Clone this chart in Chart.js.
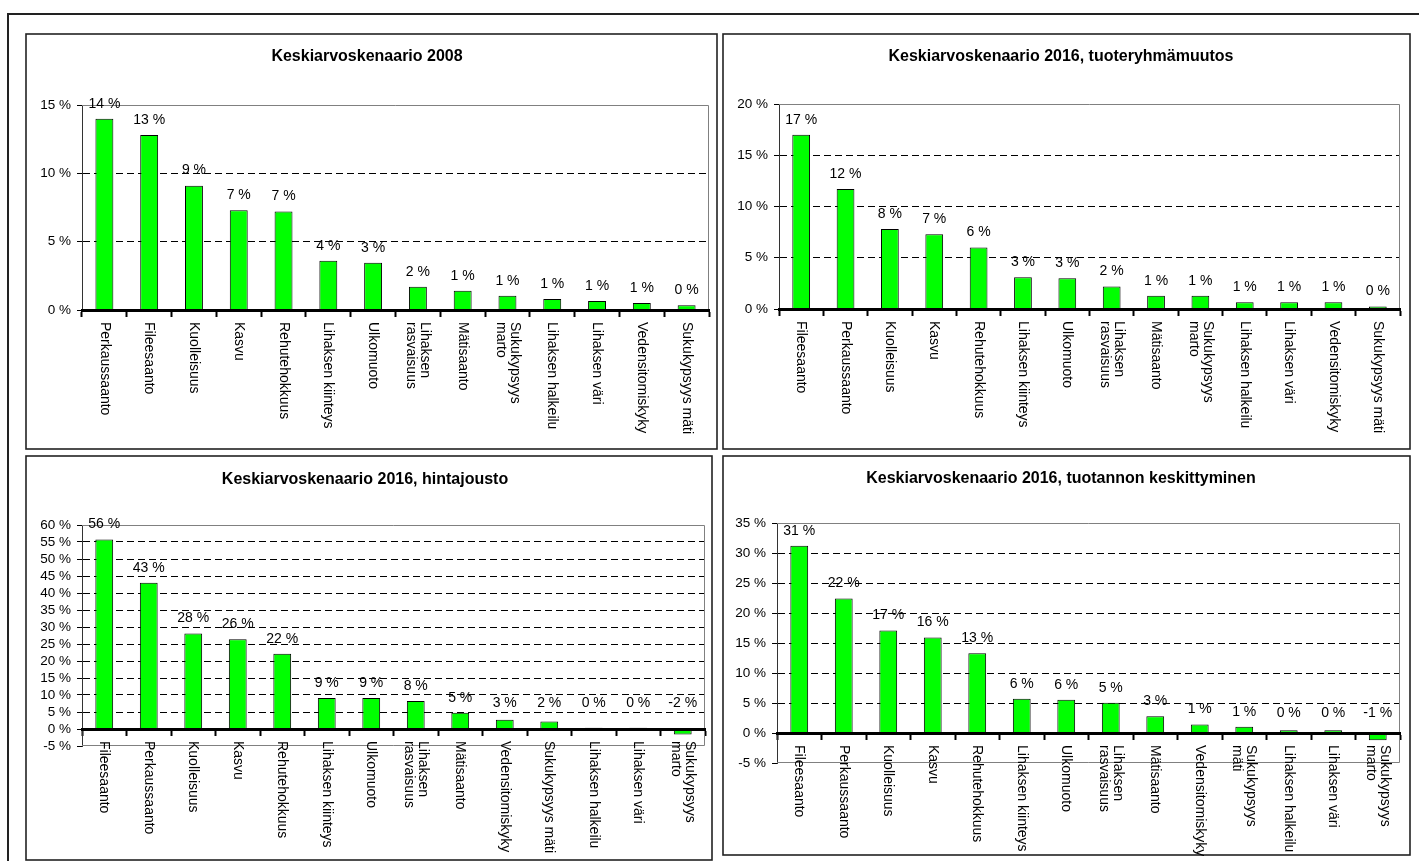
<!DOCTYPE html>
<html>
<head>
<meta charset="utf-8">
<script src="https://cdn.jsdelivr.net/npm/chart.js@4"></script>
<style>
  body { margin: 0; background: #fff; width: 1419px; height: 861px; overflow: hidden; position: relative; }
  #frame { position: absolute; left: 7px; top: 13px; width: 1440px; height: 900px; border: 2px solid #222; box-sizing: border-box; }
  canvas { position: absolute; }
</style>
</head>
<body>
<div id="frame"></div>
<canvas id="c1"></canvas>
<canvas id="c2"></canvas>
<canvas id="c3"></canvas>
<canvas id="c4"></canvas>
<script>
// values (percent)
const titles = [
  "Keskiarvoskenaario 2008",
  "Keskiarvoskenaario 2016, tuoteryhmämuutos",
  "Keskiarvoskenaario 2016, hintajousto",
  "Keskiarvoskenaario 2016, tuotannon keskittyminen"
];

const labels2008 = ["Perkaussaanto", "Fileesaanto", "Kuolleisuus", "Kasvu", "Rehutehokkuus", "Lihaksen kiinteys", "Ulkomuoto",
  ["Lihaksen", "rasvaisuus"], "Mätisaanto", ["Sukukypsyys", "marto"], "Lihaksen halkeilu", "Lihaksen väri", "Vedensitomiskyky", "Sukukypsyys mäti"];
const values2008 = [14.0, 12.8, 9.1, 7.3, 7.2, 3.6, 3.45, 1.7, 1.4, 1.05, 0.8, 0.65, 0.52, 0.35];

const labelsTuote = ["Fileesaanto", "Perkaussaanto", "Kuolleisuus", "Kasvu", "Rehutehokkuus", "Lihaksen kiinteys", "Ulkomuoto",
  ["Lihaksen", "rasvaisuus"], "Mätisaanto", ["Sukukypsyys", "marto"], "Lihaksen halkeilu", "Lihaksen väri", "Vedensitomiskyky", "Sukukypsyys mäti"];
const valuesTuote = [17.0, 11.7, 7.8, 7.3, 6.0, 3.1, 3.0, 2.2, 1.3, 1.3, 0.65, 0.65, 0.65, 0.25];

const labelsHinta = ["Fileesaanto", "Perkaussaanto", "Kuolleisuus", "Kasvu", "Rehutehokkuus", "Lihaksen kiinteys", "Ulkomuoto",
  ["Lihaksen", "rasvaisuus"], "Mätisaanto", "Vedensitomiskyky", "Sukukypsyys mäti", "Lihaksen halkeilu", "Lihaksen väri", ["Sukukypsyys", "marto"]];
const valuesHinta = [55.7, 43.0, 28.1, 26.4, 22.1, 9.1, 9.1, 8.2, 4.8, 2.7, 2.2, 0.4, 0.4, -1.6];

const labelsKesk = ["Fileesaanto", "Perkaussaanto", "Kuolleisuus", "Kasvu", "Rehutehokkuus", "Lihaksen kiinteys", "Ulkomuoto",
  ["Lihaksen", "rasvaisuus"], "Mätisaanto", "Vedensitomiskyky", ["Sukukypsyys", "mäti"], "Lihaksen halkeilu", "Lihaksen väri", ["Sukukypsyys", "marto"]];
const valuesKesk = [31.2, 22.4, 17.1, 15.9, 13.3, 5.7, 5.55, 5.05, 2.8, 1.4, 1.05, 0.45, 0.45, -1.2];

const yRanges = [[0, 15], [0, 20], [-5, 60], [-5, 35]];

Chart.defaults.font.family = "'Liberation Sans', Arial, sans-serif";
Chart.defaults.color = "#000";

// panel frame and plot area on the page: [left, top, right, bottom]
const panels = [
  { id: "c1", box: [26, 34, 717, 449], plot: [82, 105, 709, 310], titleY: 57, minGap: 18 },
  { id: "c2", box: [723, 34, 1410, 449], plot: [779, 104, 1400, 309], titleY: 57, minGap: 18 },
  { id: "c3", box: [26, 456, 712, 860], plot: [82, 525, 705, 746], titleY: 480, minGap: 26 },
  { id: "c4", box: [723, 456, 1410, 855], plot: [777, 523, 1400, 763], titleY: 479, minGap: 20 }
];

function pct(v) {
  const r = Math.sign(v) * Math.round(Math.abs(v));
  return (r === 0 ? 0 : r) + " %";
}

const panelPlugin = {
  id: "panel",
  beforeDraw(chart) {
    const c = chart.ctx;
    c.save();
    c.fillStyle = "#fff";
    c.fillRect(0, 0, chart.width, chart.height);
    c.strokeStyle = "#222";
    c.lineWidth = 1.6;
    c.strokeRect(1, 1, chart.width - 2, chart.height - 2);
    c.restore();
  },
  beforeDatasetsDraw(chart) {
    // grey plot frame (top, right, bottom)
    const a = chart.chartArea, c = chart.ctx;
    c.save();
    c.strokeStyle = "#808080";
    c.lineWidth = 1;
    c.beginPath();
    c.moveTo(a.left, a.top + 0.5);
    c.lineTo(a.right - 0.5, a.top + 0.5);
    c.lineTo(a.right - 0.5, a.bottom - 0.5);
    c.lineTo(a.left, a.bottom - 0.5);
    c.stroke();
    c.restore();
  },
  afterDraw(chart, args, opts) {
    const c = chart.ctx;
    const xs = chart.scales.x, ys = chart.scales.y;
    const vals = chart.data.datasets[0].data;
    const zero = ys.getPixelForValue(0);
    c.save();
    c.fillStyle = "#000";
    // value labels
    c.font = "14px 'Liberation Sans', Arial, sans-serif";
    c.textAlign = "center";
    c.textBaseline = "middle";
    chart.getDatasetMeta(0).data.forEach((bar, i) => {
      const y = Math.min(ys.getPixelForValue(Math.max(vals[i], 0)) - 15, zero - opts.minGap);
      c.fillText(pct(vals[i]), bar.x, y);
    });
    // category labels, turned clockwise
    c.textAlign = "left";
    chart.data.labels.forEach((lab, i) => {
      const lines = Array.isArray(lab) ? lab : [lab];
      const x = xs.getPixelForValue(i);
      c.save();
      c.translate(x, zero + 12);
      c.rotate(Math.PI / 2);
      lines.forEach((ln, j) => c.fillText(ln, 0, (j - (lines.length - 1) / 2) * 14));
      c.restore();
    });
    c.restore();
  }
};

function makeChart(p, title, labels, values, range) {
  const cv = document.getElementById(p.id);
  const left = p.box[0] - 1, top = p.box[1] - 1;
  const w = p.box[2] - p.box[0] + 2, h = p.box[3] - p.box[1] + 2;
  cv.width = w; cv.height = h;
  cv.style.left = left + "px"; cv.style.top = top + "px";
  const plotL = p.plot[0] - left, plotT = p.plot[1] - top;
  const plotR = p.plot[2] - left, plotB = p.plot[3] - top;
  const tSize = 16, tLine = 19;
  const tTop = p.titleY - top - tLine / 2;
  const [ymin, ymax] = range;

  new Chart(cv, {
    type: "bar",
    data: {
      labels: labels,
      datasets: [{
        data: values,
        backgroundColor: "#00ff00",
        borderColor: "#000",
        borderWidth: 1,
        barPercentage: 0.4,
        categoryPercentage: 1.0
      }]
    },
    options: {
      responsive: false,
      animation: false,
      layout: { padding: { left: 0, top: 0, right: w - plotR, bottom: h - plotB } },
      plugins: {
        legend: { display: false },
        tooltip: { enabled: false },
        panel: { minGap: p.minGap },
        title: {
          display: true,
          text: title,
          font: { size: tSize, weight: "bold", lineHeight: tLine / tSize },
          padding: { top: tTop, bottom: plotT - tTop - tLine }
        }
      },
      scales: {
        x: {
          position: { y: 0 },
          ticks: { display: false },
          grid: { drawOnChartArea: false, drawTicks: true, tickLength: 5, tickWidth: 2, tickColor: "#000", offset: true },
          border: { display: true, color: "#000", width: 3, z: 1 }
        },
        y: {
          min: ymin,
          max: ymax,
          afterFit: s => { s.width = plotL; },
          ticks: {
            stepSize: 5,
            maxTicksLimit: 30,
            autoSkip: false,
            padding: 6,
            font: { size: 13.5 },
            callback: v => v + " %"
          },
          grid: {
            color: ctx => (ctx.tick.value === ymin || ctx.tick.value === ymax || ctx.tick.value === 0) ? "rgba(0,0,0,0)" : "#000",
            lineWidth: 1,
            tickLength: 5,
            tickColor: "#000"
          },
          border: { display: true, color: "#333", width: 1, dash: [7, 4] }
        }
      }
    },
    plugins: [panelPlugin]
  });
}

makeChart(panels[0], titles[0], labels2008, values2008, yRanges[0]);
makeChart(panels[1], titles[1], labelsTuote, valuesTuote, yRanges[1]);
makeChart(panels[2], titles[2], labelsHinta, valuesHinta, yRanges[2]);
makeChart(panels[3], titles[3], labelsKesk, valuesKesk, yRanges[3]);
</script>
</body>
</html>
